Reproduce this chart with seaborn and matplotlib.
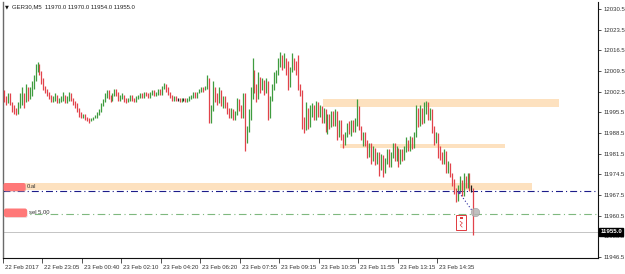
import numpy as np
import pandas as pd
import matplotlib
matplotlib.use("Agg")
import matplotlib.pyplot as plt
import matplotlib.transforms as mtrans
from matplotlib.patches import Rectangle, FancyBboxPatch
import seaborn as sns

# ---------------- data ----------------
symbol = "GER30,M5"
header_ohlc = ["11970.0", "11970.0", "11954.0", "11955.0"]
first_open = 12001.0

closes = [
    12000, 11999, 12001.5, 11998.5, 11997, 11996, 11995.5, 11998, 11999, 12001,
    11999, 12003, 12001, 12002, 12004, 12007, 12010, 12011, 12009, 12006,
    12004, 12003, 12002, 12001, 11999.5, 12000, 12001, 11999, 11999.5, 12000,
    12001, 11999, 12000, 12001.5, 12000, 11999, 11998, 11996, 11995, 11994,
    11994.5, 11993.5, 11993, 11992.5, 11993, 11993.5, 11994, 11995, 11996, 11998,
    11999.5, 12001, 12002.5, 12001, 12000, 12001.5, 12003, 12002, 12000, 12000.5,
    12001, 12000, 11999.5, 12000, 12001, 12000, 11999.5, 12000.5, 12001, 12001.5,
    12001, 12002, 12001.5, 12001, 12002, 12002.5, 12001.5, 12002, 12003, 12002,
    12004, 12005, 12003, 12002, 12001, 12000, 12000.5, 12000, 12000, 11999.5,
    12000, 12000, 11999.5, 12000, 12000.5, 12001, 12002, 12001, 12002, 12003,
    12003.5, 12003, 12004, 12006, 11992.5, 11997, 12003, 12001, 11999, 12002,
    11998, 12000, 11998, 11996, 11994, 11996, 11993.5, 11995, 11999, 11997,
    11994, 12001, 11986, 11990, 11995, 12002, 12010, 12004, 12001, 12006,
    12004, 12006, 12003, 12005, 11994, 12000, 12004, 12006, 12009, 12013,
    12014, 12011, 12013, 12010, 12005, 12010, 12013, 12012, 12009, 12004,
    12003, 11992, 11990, 11996, 11991, 11995, 11997, 11994, 11998, 11995,
    11997, 11993, 11996, 11990, 11994, 11991, 11995, 11992, 11996, 11988,
    11992, 11987, 11985, 11988, 11991, 11989, 11992, 11990, 11993, 11997,
    11990, 11987, 11988, 11985, 11982, 11984, 11980, 11983, 11979, 11981,
    11977, 11980, 11976, 11979, 11982, 11978, 11981, 11984, 11980, 11983,
    11979, 11982, 11980, 11983, 11985, 11983, 11986, 11984, 11988, 11996,
    11992, 11996, 11993, 11997, 11998, 11994, 11996, 11990, 11986, 11988,
    11983, 11981, 11979, 11982, 11976, 11978, 11974, 11972, 11969, 11966,
    11970, 11972, 11968, 11973, 11971, 11974, 11970, 11970, 11955,
]
highs = [
    12003, 12001, 12002, 12002, 11999, 11998, 11997, 11999, 12002, 12004,
    12002, 12005, 12004, 12004, 12006, 12008, 12012, 12012.5, 12012, 12009.5,
    12007, 12004.5, 12003.5, 12002.5, 12001.5, 12001, 12002, 12001.5, 12000.5, 12001,
    12002.5, 12001.5, 12001, 12002.5, 12002, 12000.5, 11999.5, 11998.5, 11997, 11995.5,
    11995, 11995, 11994, 11993.5, 11993.5, 11994, 11994.5, 11995.5, 11996.5, 11998.5,
    12000, 12002, 12003, 12003, 12001.5, 12002, 12003.5, 12003.5, 12002.5, 12001.5,
    12002, 12001.5, 12000.5, 12000.5, 12001.5, 12001.5, 12000.5, 12001, 12001.5, 12002,
    12002, 12002.5, 12002.5, 12002, 12002.5, 12003, 12003, 12002.5, 12003.5, 12003.5,
    12004.5, 12005.5, 12005, 12004, 12002.5, 12001.5, 12001, 12001, 12000.5, 12000.5,
    12000.5, 12000.5, 12000.5, 12000.5, 12001, 12001.5, 12002.5, 12002.5, 12002.5, 12003.5,
    12004, 12004, 12004.5, 12008, 12007, 11998, 12006, 12004, 12002, 12004,
    12003, 12001, 12001, 11999, 11997, 11997, 11996.5, 11996, 12000.5, 12000,
    11998, 12002, 12002, 11991, 11996.5, 12004, 12014, 12009, 12005, 12009,
    12007.5, 12007, 12006.5, 12007, 12006, 12001, 12005, 12009, 12010, 12014,
    12016, 12015, 12015.5, 12014, 12013, 12011, 12015.5, 12014, 12013, 12015,
    12005, 12003, 11994, 11999, 11997, 11998, 11998.5, 11998, 11999.5, 11999,
    11998, 11997.5, 11997, 11996.5, 11995, 11995, 11996, 11996, 11996.5, 11996,
    11993, 11993, 11988, 11989, 11992, 11992.5, 11993, 11993, 11993.5, 12000,
    11997.5, 11991, 11989, 11989, 11986, 11985, 11985, 11984, 11983.5, 11982,
    11982, 11981.5, 11981, 11980, 11983, 11983, 11982, 11985, 11985, 11984,
    11983.5, 11983, 11983, 11984, 11987, 11986, 11987.5, 11987, 11989, 11998,
    11997, 11998, 11997, 11999, 11999.5, 11999, 11997, 11996.5, 11991, 11989,
    11988.5, 11984, 11982, 11983, 11982.5, 11979, 11978.5, 11975, 11973, 11970,
    11971, 11974, 11972.5, 11975, 11974, 11975, 11975, 11971, 11970,
]
lows = [
    11999, 11998, 11998.5, 11998, 11995.5, 11995, 11994.5, 11995, 11997, 11998,
    11997, 11999, 11999.5, 12000, 12001, 12003.5, 12006, 12009, 12008, 12005,
    12003, 12002, 12001, 12000, 11999, 11999, 11999.5, 11998.5, 11998.5, 11999,
    11999.5, 11998.5, 11998.5, 11999.5, 11999.5, 11998, 11997, 11995.5, 11994, 11993.5,
    11993.5, 11993, 11992.5, 11992, 11992.5, 11993, 11993.5, 11993.5, 11994.5, 11995.5,
    11997.5, 11999, 12000.5, 12000, 11999, 11999.5, 12001, 12001, 11999.5, 11999.5,
    12000, 11999, 11998.5, 11999, 11999.5, 11999.5, 11999, 11999, 12000, 12000.5,
    12000.5, 12000.5, 12001, 12000.5, 12000.5, 12001.5, 12001, 12001, 12001.5, 12001.5,
    12001.5, 12003.5, 12002.5, 12001.5, 12000.5, 11999.5, 11999.5, 11999.5, 11999.5, 11999,
    11999, 11999.5, 11999, 11999, 11999.5, 12000, 12000.5, 12000.5, 12000.5, 12002,
    12002.5, 12002.5, 12003, 12003.5, 11992, 11992, 11996, 11999, 11998, 11998.5,
    11997.5, 11997, 11997, 11995, 11993.5, 11993.5, 11993, 11993, 11994.5, 11996,
    11993.5, 11993.5, 11982.5, 11985, 11989, 11993, 12000, 12002, 11999, 12000,
    12002, 12003, 12001.5, 12002, 11993, 11993.5, 11999.5, 12003, 12005.5, 12008,
    12011, 12010, 12010.5, 12008, 12003, 12004, 12009, 12010, 12008, 12003,
    12001, 11990, 11988.5, 11989.5, 11990, 11990.5, 11994, 11993, 11993, 11994,
    11994, 11992, 11992, 11989, 11988, 11990, 11990.5, 11991, 11991, 11986,
    11987, 11986, 11983.5, 11984.5, 11987, 11988, 11987.5, 11989, 11989, 11991,
    11989.5, 11986, 11984, 11984, 11980, 11980.5, 11978, 11979, 11977.5, 11978,
    11974, 11976, 11973.5, 11975, 11978, 11977, 11977, 11980, 11979, 11979,
    11977, 11978, 11979, 11979.5, 11982, 11982.5, 11982.5, 11983, 11983.5, 11987,
    11990.5, 11991, 11991.5, 11992, 11995, 11993, 11993, 11988.5, 11984.5, 11985,
    11980, 11979.5, 11978, 11978, 11975, 11975, 11973.5, 11970.5, 11968, 11965,
    11965.5, 11969, 11967, 11967, 11970, 11970, 11969, 11968.5, 11954,
]

time_labels = ["22 Feb 2017", "22 Feb 23:05", "23 Feb 00:40", "23 Feb 02:10",
               "23 Feb 04:20", "23 Feb 06:20", "23 Feb 07:55", "23 Feb 09:15",
               "23 Feb 10:35", "23 Feb 11:55", "23 Feb 13:15", "23 Feb 14:35"]
label_bars = [0, 20, 40, 60, 80, 100, 120, 140, 160, 180, 200, 220]

price_ticks = [12030.5, 12023.5, 12016.5, 12009.5, 12002.5, 11995.5, 11988.5,
               11981.5, 11974.5, 11967.5, 11960.5, 11953.5, 11946.5]

zone_start = [161.6, 170.3, -0.6]
zone_end = [281.5, 254.0, 267.7]
zone_low = [11997.4, 11983.5, 11969.2]
zone_high = [11999.9, 11984.7, 11971.6]

buy_level = 11968.9
sell_level = 11961.0
bid_level = 11955.0

# ---------------- figure ----------------
sns.set_theme(style="white")
plt.rcParams['font.family'] = ['Liberation Sans', 'DejaVu Sans']
plt.rcParams['lines.scale_dashes'] = False

W, H = 625, 274
fig = plt.figure(figsize=(W / 100, H / 100), dpi=100)
fig.patch.set_facecolor("white")
ax = fig.add_axes([3 / W, 16 / H, 595 / W, 256 / H])
ax.set_facecolor("white")

n = len(closes)
opens = [first_open] + closes[:-1]
df = pd.DataFrame({"bar": np.arange(n), "open": opens, "high": highs,
                   "low": lows, "close": closes})
df["top"] = df[["open", "close", "high"]].max(axis=1)
df["bot"] = df[["open", "close", "low"]].min(axis=1)
df["dir"] = np.sign(df["close"] - df["open"])
pal = {1.0: "#3f9c3f", -1.0: "#e2434b", 0.0: "#1e1e1e"}

# zones
for x0, x1, lo, hi in zip(zone_start, zone_end, zone_low, zone_high):
    ax.add_patch(Rectangle((x0, lo), x1 - x0, hi - lo, facecolor="#fde1bf",
                           edgecolor="none", zorder=1))

# candles
for d, g in df.groupby("dir"):
    ax.vlines(g["bar"], g["bot"], g["top"], colors=pal[d], lw=0.9, zorder=3)

# horizontal lines
ax.axhline(buy_level, color="#1c1c8a", lw=0.8, ls=(0, (5, 2.2, 0.8, 2.2)), zorder=2)
ax.axhline(sell_level, color="#7fb87f", lw=0.8, ls=(0, (5.5, 2.5, 0.8, 2.5)), zorder=2)
ax.axhline(bid_level, color="#c4c4c4", lw=0.7, zorder=2)

# trade arrow / markers
ax.plot([230.8, 237.1], [11968.3, 11962.4], color="#2a2aa0", lw=0.8,
        ls=(0, (0.8, 1.6)), zorder=4)
sns.scatterplot(x=[230.8], y=[11968.3], color="#5a3aa0", s=5, ax=ax,
                zorder=5, edgecolor="none", legend=False)
sns.scatterplot(x=[238.8], y=[11961.6], color="#b5b5b5", s=38, alpha=0.85,
                ax=ax, zorder=5, edgecolor="#999999", linewidth=0.4, legend=False)
ax.add_patch(Rectangle((229.3, 11955.6), 4.8, 5.0, facecolor="white",
                       edgecolor="#e0393f", lw=0.7, zorder=5))
ax.add_patch(Rectangle((231.0, 11959.4), 1.5, 0.8, facecolor="#e0393f",
                       edgecolor="none", zorder=6))
ax.plot([231.2, 232.4, 231.3, 232.3], [11958.6, 11958.0, 11957.3, 11956.6],
        color="#e0393f", lw=0.5, zorder=6)

# axes limits
px_per_bar = 1.9725
x_left = -0.5
ax.set_xlim(x_left, x_left + 595 / px_per_bar)
ax.set_ylim(12033.55 - 258 / 2.952, 12033.55 - 2 / 2.952)

# spines
for s in ["top"]:
    ax.spines[s].set_visible(False)
ax.spines["left"].set_color("#6a6a6a")
ax.spines["left"].set_linewidth(1.0)
ax.spines["right"].set_color("#111111")
ax.spines["right"].set_linewidth(0.8)
ax.spines["bottom"].set_color("#111111")
ax.spines["bottom"].set_linewidth(0.8)

# y axis right
ax.yaxis.tick_right()
ax.set_yticks(price_ticks)
ax.set_yticklabels([f"{p:.1f}" for p in price_ticks])
ax.tick_params(axis="y", direction="out", length=2.5, width=0.6, pad=1.5,
               labelsize=4.3, colors="#333333", right=True, left=False)

# x axis
ax.set_xticks([b - 0.5 for b in label_bars])
ax.set_xticklabels(time_labels)
ax.tick_params(axis="x", direction="out", length=3.5, width=0.6, pad=1.5,
               labelsize=4.3, colors="#333333", bottom=True)
offset = mtrans.ScaledTranslation(2 / 100, 0, fig.dpi_scale_trans)
for lab in ax.get_xticklabels():
    lab.set_horizontalalignment("left")
    lab.set_transform(lab.get_transform() + offset)
ax.set_xlabel("")
ax.set_ylabel("")
ax.grid(False)

# current price box
ax.text(1.004, bid_level, "11955.0",
        transform=mtrans.blended_transform_factory(ax.transAxes, ax.transData),
        color="white", fontsize=4.4, fontweight="bold", va="center", ha="left",
        bbox=dict(boxstyle="square,pad=0.2", fc="black", ec="black"),
        zorder=20, clip_on=False)

# header
fig.text(5 / W, 1 - 7 / H, "\u25BC", fontsize=3.6, color="#111111",
         va="center", ha="left", family="DejaVu Sans")
fig.text(12 / W, 1 - 7 / H, symbol + "  " + " ".join(header_ohlc),
         fontsize=4.3, color="#222222", va="center", ha="left")

# trade labels on the left
dpi_t = fig.dpi_scale_trans
for (x0, y0, w, h), txt in [((0.035, (H - 191) / 100, 0.22, 0.08), "0.al"),
                            ((0.04, (H - 217) / 100, 0.23, 0.085), "sel 5.00")]:
    fig.patches.append(FancyBboxPatch((x0 + 0.006, y0 - 0.008), w, h,
                                      boxstyle="round,pad=0,rounding_size=0.02",
                                      transform=dpi_t, fc="#d9a0a0", ec="none",
                                      alpha=0.5, zorder=9, figure=fig))
    fig.patches.append(FancyBboxPatch((x0, y0), w, h,
                                      boxstyle="round,pad=0,rounding_size=0.02",
                                      transform=dpi_t, fc="#ff7878", ec="none",
                                      zorder=10, figure=fig))
    fig.text(x0 + w + 0.015, y0 + h / 2, txt, transform=dpi_t, fontsize=4.2,
             color="#333333", va="center", ha="left", zorder=11)

fig.savefig("out.png", dpi=100, facecolor="white")
